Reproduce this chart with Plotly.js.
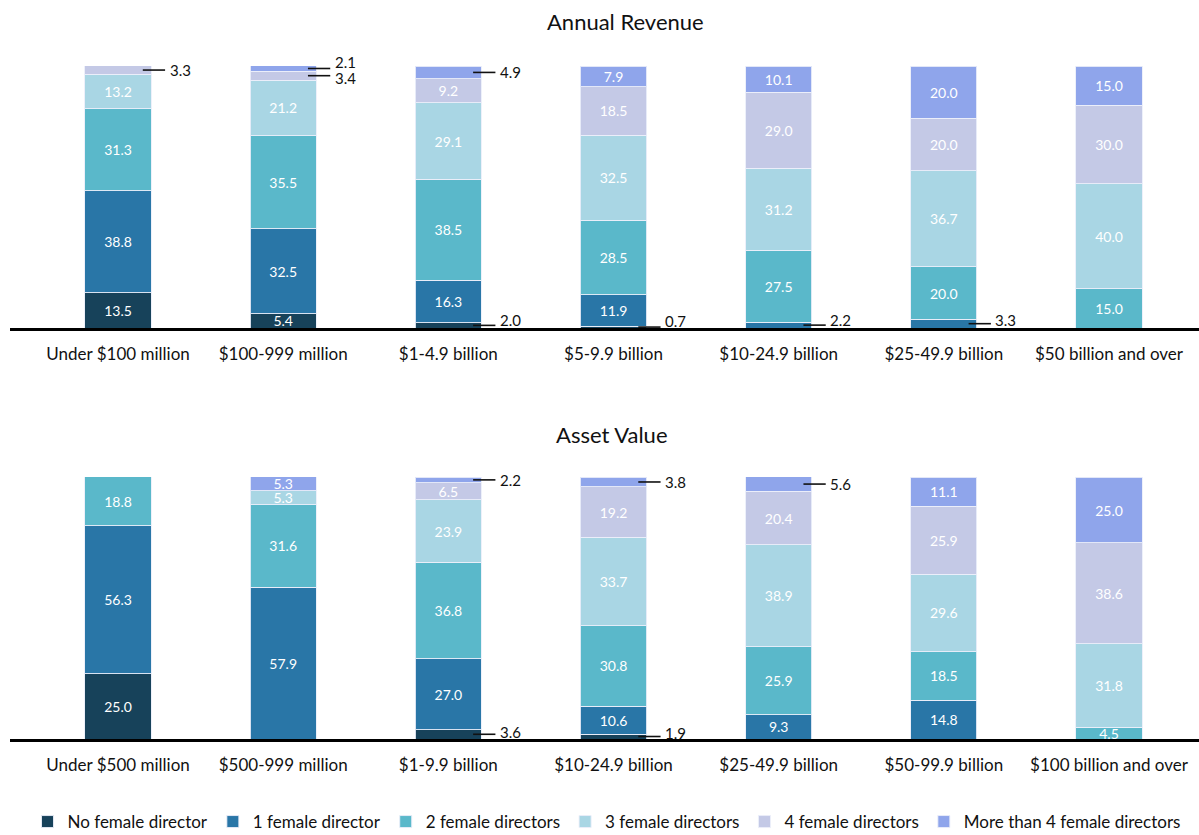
<!DOCTYPE html>
<html>
<head>
<meta charset="utf-8">
<script src="https://cdn.plot.ly/plotly-3.0.1.min.js"></script>
<style>html,body{margin:0;padding:0;background:#fff;}#chart{width:1199px;height:835px;}</style>
</head>
<body>
<div id="chart"></div>
<script>
// ---- Data ----
const seriesNames = ['No female director', '1 female director', '2 female directors', '3 female directors', '4 female directors', 'More than 4 female directors'];

const revenueCategories = ['Under $100 million', '$100-999 million', '$1-4.9 billion', '$5-9.9 billion', '$10-24.9 billion', '$25-49.9 billion', '$50 billion and over'];
const revNone = [13.5, 5.4, 2.0, 0.7, 0, 0, 0];
const revOne = [38.8, 32.5, 16.3, 11.9, 2.2, 3.3, 0];
const revTwo = [31.3, 35.5, 38.5, 28.5, 27.5, 20.0, 15.0];
const revThree = [13.2, 21.2, 29.1, 32.5, 31.2, 36.7, 40.0];
const revFour = [3.3, 3.4, 9.2, 18.5, 29.0, 20.0, 30.0];
const revMore = [0, 2.1, 4.9, 7.9, 10.1, 20.0, 15.0];

const assetCategories = ['Under $500 million', '$500-999 million', '$1-9.9 billion', '$10-24.9 billion', '$25-49.9 billion', '$50-99.9 billion', '$100 billion and over'];
const assetNone = [25.0, 0, 3.6, 1.9, 0, 0, 0];
const assetOne = [56.3, 57.9, 27.0, 10.6, 9.3, 14.8, 0];
const assetTwo = [18.8, 31.6, 36.8, 30.8, 25.9, 18.5, 4.5];
const assetThree = [0, 5.3, 23.9, 33.7, 38.9, 29.6, 31.8];
const assetFour = [0, 0, 6.5, 19.2, 20.4, 25.9, 38.6];
const assetMore = [0, 5.3, 2.2, 3.8, 5.6, 11.1, 25.0];

// segments labelled outside with a leader line: [category index, series index, text shift px]
const revOutside = [[0,4,0],[1,5,6],[1,4,-2],[2,5,0],[2,0,5],[3,0,6],[4,1,5],[5,1,4]];
const assetOutside = [[2,5,0],[2,0,2],[3,5,0],[3,0,4],[4,5,0]];

// ---- Style ----
const colors = ['#17425a', '#2976a7', '#5ab8ca', '#a9d6e4', '#c4c9e6', '#8fa5eb'];
const FONT = 'Lato, "Open Sans", sans-serif';
const W = 1199, H = 835;

const revSeries = [revNone, revOne, revTwo, revThree, revFour, revMore];
const assetSeries = [assetNone, assetOne, assetTwo, assetThree, assetFour, assetMore];

function isOutside(list, c, s) { return list.some(o => o[0] === c && o[1] === s); }

const traces = [];
function addTraces(cats, series, outside, xa, ya, showLegend) {
  series.forEach((vals, s) => {
    traces.push({
      type: 'bar',
      name: seriesNames[s],
      x: cats,
      y: vals,
      xaxis: xa, yaxis: ya,
      marker: { color: colors[s], line: { color: 'rgba(235,238,250,0.9)', width: 1 } },
      text: vals.map((v, c) => (v > 0 && !isOutside(outside, c, s)) ? v.toFixed(1) : ''),
      textposition: 'inside',
      insidetextanchor: 'middle',
      constraintext: 'none',
      textfont: { color: '#ffffff', size: 14, family: FONT },
      showlegend: showLegend,
      legendgroup: seriesNames[s],
      hoverinfo: 'x+y+name'
    });
  });
}
addTraces(revenueCategories, revSeries, revOutside, 'x', 'y', true);
addTraces(assetCategories, assetSeries, assetOutside, 'x2', 'y2', false);

const shapes = [];
const annotations = [];
function addOutside(series, outside, xr, yr) {
  outside.forEach(([c, s, shift]) => {
    let base = 0;
    for (let k = 0; k < s; k++) base += series[k][c];
    const v = series[s][c];
    const yc = base + v / 2;
    shapes.push({ type: 'line', xref: xr, yref: yr, x0: c + 0.15, x1: c + 0.285, y0: yc, y1: yc,
      line: { color: '#111', width: 1.6 } });
    annotations.push({ xref: xr, yref: yr, x: c + 0.3, y: yc, text: v.toFixed(1), showarrow: false,
      xanchor: 'left', yanchor: 'middle', yshift: shift, font: { size: 15, color: '#111', family: FONT } });
  });
}
addOutside(revSeries, revOutside, 'x', 'y');
addOutside(assetSeries, assetOutside, 'x2', 'y2');

annotations.push({ xref: 'paper', yref: 'paper', x: 625 / W, y: 1 - 21 / H, text: 'Annual Revenue', showarrow: false,
  xanchor: 'center', yanchor: 'middle', font: { size: 22, color: '#111', family: FONT } });
annotations.push({ xref: 'paper', yref: 'paper', x: 612 / W, y: 1 - 434 / H, text: 'Asset Value', showarrow: false,
  xanchor: 'center', yanchor: 'middle', font: { size: 22, color: '#111', family: FONT } });

const xRange = [-0.654, 6.545];
const xaxisBase = {
  type: 'category', range: xRange, domain: [10 / W, 1],
  showline: true, linecolor: '#000', linewidth: 3,
  showgrid: false, zeroline: false,
  ticks: 'outside', ticklen: 9, tickcolor: 'rgba(0,0,0,0)',
  tickfont: { size: 17, color: '#111', family: FONT },
  fixedrange: true
};
const yaxisBase = { range: [0, 100], visible: false, fixedrange: true };

const layout = {
  width: W, height: H,
  margin: { l: 0, r: 0, t: 0, b: 0, autoexpand: false },
  paper_bgcolor: '#fff', plot_bgcolor: '#fff',
  barmode: 'stack', bargap: 0.6,
  font: { family: FONT, color: '#111' },
  xaxis: Object.assign({}, xaxisBase, { anchor: 'y' }),
  yaxis: Object.assign({}, yaxisBase, { domain: [1 - 328 / H, 1 - 66 / H], anchor: 'x' }),
  xaxis2: Object.assign({}, xaxisBase, { anchor: 'y2' }),
  yaxis2: Object.assign({}, yaxisBase, { domain: [1 - 739 / H, 1 - 477 / H], anchor: 'x2' }),
  legend: { orientation: 'h', x: (W / 2 + 7) / W, xanchor: 'center', y: -5 / H, yanchor: 'bottom',
    bgcolor: 'rgba(0,0,0,0)',
    font: { size: 17, color: '#111', family: FONT }, traceorder: 'normal', itemwidth: 30 },
  shapes: shapes,
  annotations: annotations,
  showlegend: true
};

Plotly.newPlot('chart', traces, layout, { displayModeBar: false, staticPlot: true });
</script>
</body>
</html>
